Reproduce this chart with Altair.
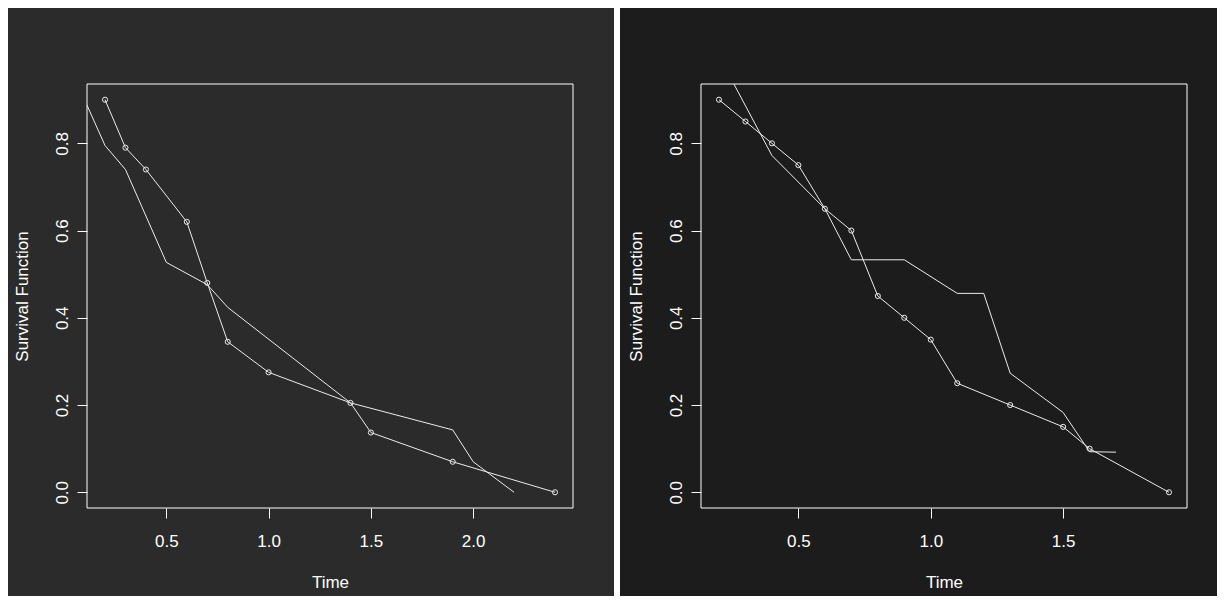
import altair as alt
import pandas as pd

# ---- data ----
left_circle_t = [0.2, 0.3, 0.4, 0.6, 0.7, 0.8, 1.0, 1.4, 1.5, 1.9, 2.4]
left_circle_s = [0.90, 0.79, 0.74, 0.62, 0.48, 0.345, 0.275, 0.205, 0.137, 0.07, 0.0]
left_line_t = [0.1, 0.2, 0.3, 0.5, 0.7, 0.8, 1.4, 1.9, 2.0, 2.2]
left_line_s = [0.90, 0.795, 0.74, 0.527, 0.476, 0.424, 0.205, 0.143, 0.07, 0.0]

right_circle_t = [0.2, 0.3, 0.4, 0.5, 0.6, 0.7, 0.8, 0.9, 1.0, 1.1, 1.3, 1.5, 1.6, 1.9]
right_circle_s = [0.9, 0.85, 0.8, 0.75, 0.65, 0.6, 0.45, 0.4, 0.35, 0.25, 0.2, 0.15, 0.1, 0.0]
right_line_t = [0.2, 0.4, 0.6, 0.7, 0.9, 1.1, 1.2, 1.3, 1.5, 1.6, 1.7]
right_line_s = [1.0, 0.772, 0.65, 0.533, 0.533, 0.456, 0.456, 0.273, 0.183, 0.093, 0.092]

left_xdomain = [0.112, 2.488]
left_xticks = [0.5, 1.0, 1.5, 2.0]
right_xdomain = [0.132, 1.968]
right_xticks = [0.5, 1.0, 1.5]
y_domain = [-0.036, 0.936]
y_ticks = [0.0, 0.2, 0.4, 0.6, 0.8]

W, H = 486, 424
SPACING = 128
TOP, BOTTOM = 76, 88
LEFT_BG = "#2b2b2b"
RIGHT_BG = "#1c1c1c"
FG = "#ffffff"
LINE = "#ececec"
FONT = "Liberation Sans"
FS = 17


def panel(ct, cs, lt, ls, xdom, xticks, extras):
    df_c = pd.DataFrame({"t": ct, "s": cs})
    df_l = pd.DataFrame({"t": lt, "s": ls})
    x = alt.X(
        "t:Q",
        scale=alt.Scale(domain=xdom, nice=False, zero=False),
        axis=alt.Axis(
            values=xticks, format=".1f", title="Time",
            titleX=W / 2, titleY=79, titleAlign="center", titleBaseline="alphabetic",
            labelBaseline="alphabetic", labelPadding=28, labelAlign="center",
        ),
    )
    y = alt.Y(
        "s:Q",
        scale=alt.Scale(domain=y_domain, nice=False, zero=False),
        axis=alt.Axis(
            values=y_ticks, format=".1f", title="Survival Function",
            titleAngle=270, titleX=-60, titleY=H / 2, titleAlign="center",
            titleBaseline="alphabetic",
            labelAngle=270, labelAlign="center", labelBaseline="alphabetic",
            labelPadding=10,
        ),
    )
    one = pd.DataFrame({"k": [0]})
    box = alt.Chart(one).mark_rect(fillOpacity=0, stroke=FG, strokeWidth=1).encode(
        x=alt.value(0), x2=alt.value(W), y=alt.value(0), y2=alt.value(H),
    )
    l1 = alt.Chart(df_l).mark_line(color=LINE, strokeWidth=1, clip=True).encode(x=x, y=y)
    l2 = alt.Chart(df_c).mark_line(color=LINE, strokeWidth=1, clip=True).encode(x=x, y=y)
    pts = alt.Chart(df_c).mark_point(
        shape="circle", filled=False, size=26, strokeWidth=1, color=LINE, opacity=1
    ).encode(x=x, y=y)
    return alt.layer(*extras, box, l1, l2, pts).properties(width=W, height=H)


one = pd.DataFrame({"k": [0]})
# invisible extent of the left panel (sets the outer margin)
left_extent = alt.Chart(one).mark_rect(fill=LEFT_BG, fillOpacity=0, strokeWidth=0).encode(
    x=alt.value(-79), x2=alt.value(W + 41), y=alt.value(-TOP), y2=alt.value(H + BOTTOM),
)
# white gap between panels and the darker background of the right panel,
# drawn from the left panel so that the right panel's axes sit on top
gap = alt.Chart(one).mark_rect(fill="#ffffff", strokeWidth=0).encode(
    x=alt.value(W + 41), x2=alt.value(W + SPACING - 81),
    y=alt.value(-TOP), y2=alt.value(H + BOTTOM),
)
right_back = alt.Chart(one).mark_rect(fill=RIGHT_BG, strokeWidth=0).encode(
    x=alt.value(W + SPACING - 81), x2=alt.value(W + SPACING + W + 30),
    y=alt.value(-TOP), y2=alt.value(H + BOTTOM),
)

left = panel(left_circle_t, left_circle_s, left_line_t, left_line_s,
             left_xdomain, left_xticks, [left_extent, gap, right_back])
right = panel(right_circle_t, right_circle_s, right_line_t, right_line_s,
              right_xdomain, right_xticks, [])

chart = alt.hconcat(left, right, spacing=SPACING, bounds="flush").properties(
    padding=0, background=LEFT_BG
).configure_view(strokeWidth=0).configure_axis(
    grid=False, domain=False, ticks=True, tickColor=FG, tickSize=10, tickWidth=1,
    labelColor=FG, labelFont=FONT, labelFontSize=FS, labelFlush=False,
    labelOverlap=False, titleColor=FG, titleFont=FONT, titleFontSize=FS,
    titleFontWeight="normal",
)

chart.save("out.html", embed_options={"renderer": "svg", "actions": False})
